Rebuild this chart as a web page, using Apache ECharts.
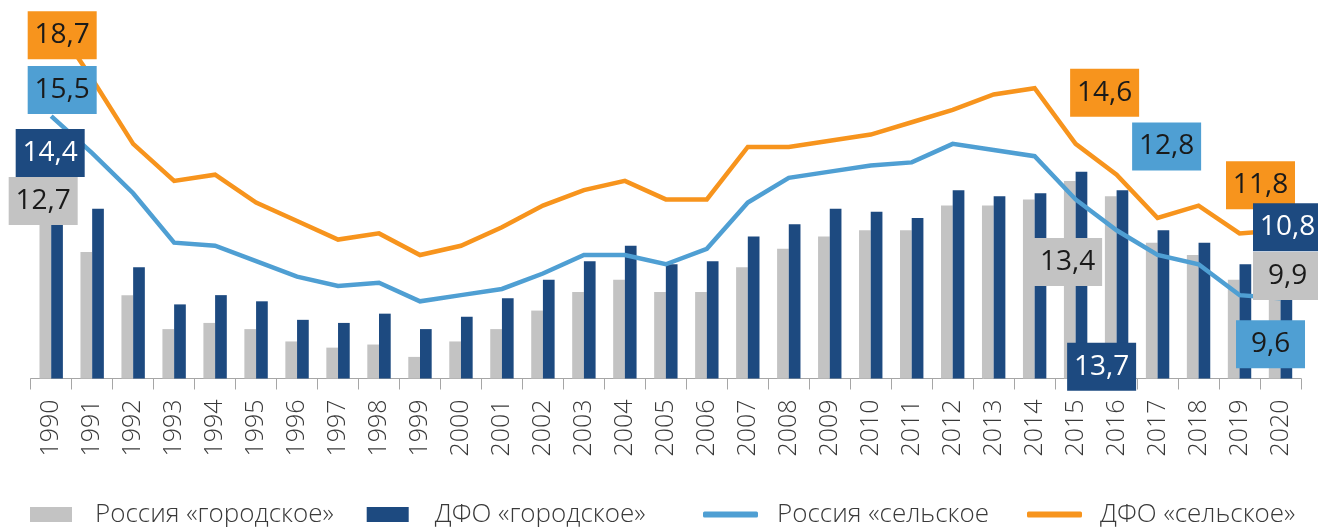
<!DOCTYPE html>
<html>
<head>
<meta charset="utf-8">
<script src="https://cdn.jsdelivr.net/npm/echarts@6/dist/echarts.min.js"></script>
<style>
html,body{margin:0;padding:0;background:#fff;}
#chart{width:1318px;height:527px;}
</style>
</head>
<body>
<div id="chart"></div>
<script>
const years = ['1990','1991','1992','1993','1994','1995','1996','1997','1998','1999','2000','2001','2002','2003','2004','2005','2006','2007','2008','2009','2010','2011','2012','2013','2014','2015','2016','2017','2018','2019','2020'];
const russiaUrban = [12.7,11.1,9.7,8.6,8.8,8.6,8.2,8.0,8.1,7.7,8.2,8.6,9.2,9.8,10.2,9.8,9.8,10.6,11.2,11.6,11.8,11.8,12.6,12.6,12.8,13.4,12.9,11.4,11.0,10.2,9.9];
const dfoUrban = [14.4,12.5,10.6,9.4,9.7,9.5,8.9,8.8,9.1,8.6,9.0,9.6,10.2,10.8,11.3,10.7,10.8,11.6,12.0,12.5,12.4,12.2,13.1,12.9,13.0,13.7,13.1,11.8,11.4,10.7,10.8];
const russiaRural = [15.5,14.3,13.0,11.4,11.3,10.8,10.3,10.0,10.1,9.5,9.7,9.9,10.4,11.0,11.0,10.7,11.2,12.7,13.5,13.7,13.9,14.0,14.6,14.4,14.2,12.8,11.8,11.0,10.7,9.7,9.6];
const dfoRural = [18.7,16.7,14.6,13.4,13.6,12.7,12.1,11.5,11.7,11.0,11.3,11.9,12.6,13.1,13.4,12.8,12.8,14.5,14.5,14.7,14.9,15.3,15.7,16.2,16.4,14.6,13.6,12.2,12.6,11.7,11.8];
const seriesNames = ['Россия «городское»','ДФО «городское»','Россия «сельское','ДФО «сельское»'];

const C = {grey:'#C3C3C3', dark:'#1D4A80', blue:'#4F9FD3', orange:'#F7941D'};
const seriesData = {russiaUrban, dfoUrban, russiaRural, dfoRural};
const seriesColor = {russiaUrban:C.grey, dfoUrban:C.dark, russiaRural:C.blue, dfoRural:C.orange};

// which values get a callout box (offsets = box centre relative to the value point)
const callouts = [
  {key:'dfoRural',    year:'1990', off:[11,18]},
  {key:'russiaRural', year:'1990', off:[11,-26]},
  {key:'dfoUrban',    year:'1990', off:[-1,3]},
  {key:'russiaUrban', year:'1990', off:[-8,-1.5]},
  {key:'dfoRural',    year:'2015', off:[29,-51]},
  {key:'russiaRural', year:'2015', off:[91,-53]},
  {key:'russiaUrban', year:'2015', off:[-8,81]},
  {key:'dfoUrban',    year:'2015', off:[26,195]},
  {key:'dfoRural',    year:'2020', off:[-20,-45]},
  {key:'dfoUrban',    year:'2020', off:[7,-34]},
  {key:'russiaUrban', year:'2020', off:[7,-13]},
  {key:'russiaRural', year:'2020', off:[-10,46]}
];

const fmt = v => String(v.toFixed(1)).replace('.', ',');
const calloutData = callouts.map(c => {
  const i = years.indexOf(c.year);
  const v = seriesData[c.key][i];
  return {
    value:[i, v],
    label:{
      show:true, position:'inside', offset:c.off,
      formatter: fmt(v),
      backgroundColor: seriesColor[c.key],
      color: c.key === 'dfoUrban' ? '#ffffff' : '#1a1a1a',
      opacity:1
    }
  };
});

const chart = echarts.init(document.getElementById('chart'), null, {renderer:'canvas'});
const legendBase = {
  padding:0, top:499.5, itemHeight:15, itemWidth:42, selectedMode:false,
  textStyle:{fontFamily:'Open Sans', fontWeight:300, fontSize:26, color:'#3a3a3a', lineHeight:30}
};
chart.setOption({
  animation:false,
  backgroundColor:'#ffffff',
  grid:{left:30.7, right:17, top:8, bottom:148.5, containLabel:false},
  xAxis:{
    type:'category', data:years, boundaryGap:true,
    axisLine:{lineStyle:{color:'#A6A6A6', width:1}},
    axisTick:{show:true, length:11, lineStyle:{color:'#A6A6A6'}, alignWithLabel:false},
    axisLabel:{rotate:90, margin:21, interval:0, padding:[8,0,0,0], fontFamily:'Open Sans', fontWeight:300, fontSize:25, color:'#3a3a3a'}
  },
  yAxis:{type:'value', min:7, max:19, show:false, splitLine:{show:false}},
  legend:[
    Object.assign({}, legendBase, {left:30, data:[{name:seriesNames[0], icon:'rect'}], textStyle:Object.assign({}, legendBase.textStyle, {padding:[0,0,0,18]})}),
    Object.assign({}, legendBase, {left:366.7, data:[{name:seriesNames[1], icon:'rect'}], textStyle:Object.assign({}, legendBase.textStyle, {padding:[0,0,0,21]})}),
    Object.assign({}, legendBase, {left:703, itemWidth:55, itemHeight:6, data:[{name:seriesNames[2], icon:'roundRect'}], textStyle:Object.assign({}, legendBase.textStyle, {padding:[0,0,0,14]})}),
    Object.assign({}, legendBase, {left:1027, itemWidth:55, itemHeight:6, data:[{name:seriesNames[3], icon:'roundRect'}], textStyle:Object.assign({}, legendBase.textStyle, {padding:[0,0,0,13]})})
  ],
  series:[
    {name:seriesNames[0], type:'bar', data:russiaUrban, barWidth:11.7, barGap:'0%', itemStyle:{color:C.grey}, z:2},
    {name:seriesNames[1], type:'bar', data:dfoUrban, barWidth:11.7, barGap:'0%', itemStyle:{color:C.dark}, z:2},
    {name:seriesNames[2], type:'line', data:russiaRural, symbol:'none', lineStyle:{color:C.blue, width:4.5, join:'miter'}, itemStyle:{color:C.blue}, z:3},
    {name:seriesNames[3], type:'line', data:dfoRural, symbol:'none', lineStyle:{color:C.orange, width:4.5, join:'miter'}, itemStyle:{color:C.orange}, z:3},
    {name:'callouts', type:'scatter', data:calloutData, symbolSize:1, silent:true, z:10,
     itemStyle:{color:'rgba(0,0,0,0)', opacity:1},
     label:{show:true, position:'inside', fontFamily:'Open Sans', fontSize:28, lineHeight:34, padding:[7,7], width:55, align:'center', verticalAlign:'middle'}}
  ]
});
</script>
</body>
</html>
